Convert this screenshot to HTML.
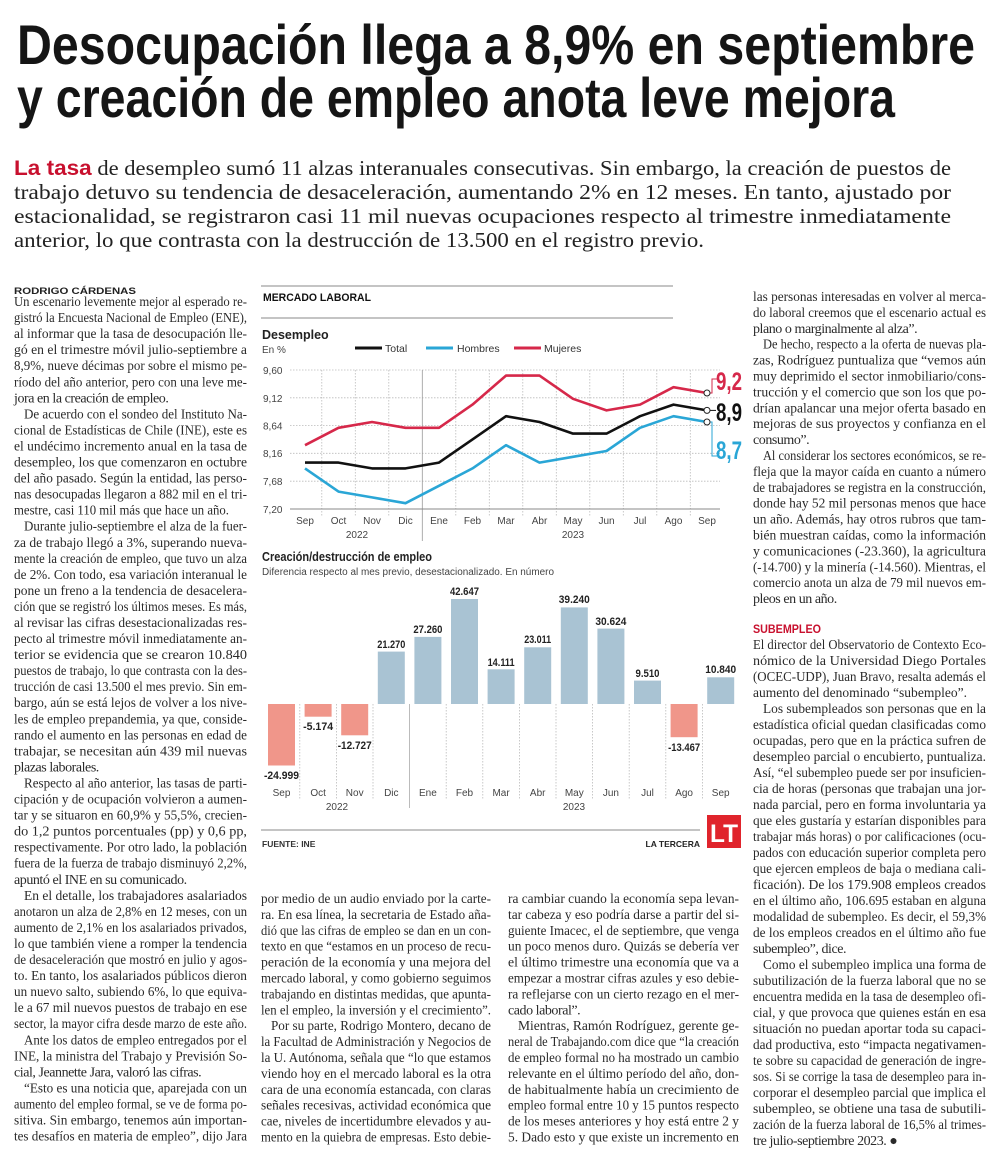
<!DOCTYPE html>
<html><head><meta charset="utf-8">
<style>
html,body{margin:0;padding:0;background:#fff;}
svg{display:block;}
.b{font-family:"Liberation Serif",serif;font-size:14px;fill:#2a2a2a;}
.s{font-family:"Liberation Sans",sans-serif;}
.e{letter-spacing:-0.45px;}
</style></head><body>
<svg width="1000" height="1169" viewBox="0 0 1000 1169" xmlns="http://www.w3.org/2000/svg">
<rect width="1000" height="1169" fill="#fff"/>
<!-- Headline -->
<text class="s" x="17" y="64" font-size="56" font-weight="bold" fill="#151515" textLength="958" lengthAdjust="spacingAndGlyphs">Desocupación llega a 8,9% en septiembre</text>
<text class="s" x="17" y="117" font-size="56" font-weight="bold" fill="#151515" textLength="878" lengthAdjust="spacingAndGlyphs">y creación de empleo anota leve mejora</text>
<!-- Lede -->
<g font-family="Liberation Serif, serif" font-size="21" fill="#222">
<text x="14" y="175" textLength="937" lengthAdjust="spacingAndGlyphs"><tspan font-family="Liberation Sans, sans-serif" font-weight="bold" fill="#c8102e">La tasa</tspan> de desempleo sumó 11 alzas interanuales consecutivas. Sin embargo, la creación de puestos de</text>
<text x="14" y="199" textLength="937" lengthAdjust="spacingAndGlyphs">trabajo detuvo su tendencia de desaceleración, aumentando 2% en 12 meses. En tanto, ajustado por</text>
<text x="14" y="223" textLength="937" lengthAdjust="spacingAndGlyphs">estacionalidad, se registraron casi 11 mil nuevas ocupaciones respecto al trimestre inmediatamente</text>
<text x="14" y="247" textLength="690" lengthAdjust="spacingAndGlyphs">anterior, lo que contrasta con la destrucción de 13.500 en el registro previo.</text>
</g>
<!-- Left column -->
<text class="s" x="14" y="294" font-size="9.5" font-weight="bold" fill="#222" textLength="122" lengthAdjust="spacingAndGlyphs">RODRIGO CÁRDENAS</text>
<text class="b">
<tspan x="14" y="306" textLength="233" lengthAdjust="spacingAndGlyphs">Un escenario levemente mejor al esperado re-</tspan>
<tspan x="14" dy="16.05" textLength="233" lengthAdjust="spacingAndGlyphs">gistró la Encuesta Nacional de Empleo (ENE),</tspan>
<tspan x="14" dy="16.05" textLength="233" lengthAdjust="spacingAndGlyphs">al informar que la tasa de desocupación lle-</tspan>
<tspan x="14" dy="16.05" textLength="233" lengthAdjust="spacingAndGlyphs">gó en el trimestre móvil julio-septiembre a</tspan>
<tspan x="14" dy="16.05" textLength="233" lengthAdjust="spacingAndGlyphs">8,9%, nueve décimas por sobre el mismo pe-</tspan>
<tspan x="14" dy="16.05" textLength="233" lengthAdjust="spacingAndGlyphs">ríodo del año anterior, pero con una leve me-</tspan>
<tspan x="14" dy="16.05" class="e">jora en la creación de empleo.</tspan>
<tspan x="24" dy="16.05" textLength="223" lengthAdjust="spacingAndGlyphs">De acuerdo con el sondeo del Instituto Na-</tspan>
<tspan x="14" dy="16.05" textLength="233" lengthAdjust="spacingAndGlyphs">cional de Estadísticas de Chile (INE), este es</tspan>
<tspan x="14" dy="16.05" textLength="233" lengthAdjust="spacingAndGlyphs">el undécimo incremento anual en la tasa de</tspan>
<tspan x="14" dy="16.05" textLength="233" lengthAdjust="spacingAndGlyphs">desempleo, los que comenzaron en octubre</tspan>
<tspan x="14" dy="16.05" textLength="233" lengthAdjust="spacingAndGlyphs">del año pasado. Según la entidad, las perso-</tspan>
<tspan x="14" dy="16.05" textLength="233" lengthAdjust="spacingAndGlyphs">nas desocupadas llegaron a 882 mil en el tri-</tspan>
<tspan x="14" dy="16.05" textLength="215" lengthAdjust="spacingAndGlyphs">mestre, casi 110 mil más que hace un año.</tspan>
<tspan x="24" dy="16.05" textLength="223" lengthAdjust="spacingAndGlyphs">Durante julio-septiembre el alza de la fuer-</tspan>
<tspan x="14" dy="16.05" textLength="233" lengthAdjust="spacingAndGlyphs">za de trabajo llegó a 3%, superando nueva-</tspan>
<tspan x="14" dy="16.05" textLength="233" lengthAdjust="spacingAndGlyphs">mente la creación de empleo, que tuvo un alza</tspan>
<tspan x="14" dy="16.05" textLength="233" lengthAdjust="spacingAndGlyphs">de 2%. Con todo, esa variación interanual le</tspan>
<tspan x="14" dy="16.05" textLength="233" lengthAdjust="spacingAndGlyphs">pone un freno a la tendencia de desacelera-</tspan>
<tspan x="14" dy="16.05" textLength="233" lengthAdjust="spacingAndGlyphs">ción que se registró los últimos meses. Es más,</tspan>
<tspan x="14" dy="16.05" textLength="233" lengthAdjust="spacingAndGlyphs">al revisar las cifras desestacionalizadas res-</tspan>
<tspan x="14" dy="16.05" textLength="233" lengthAdjust="spacingAndGlyphs">pecto al trimestre móvil inmediatamente an-</tspan>
<tspan x="14" dy="16.05" textLength="233" lengthAdjust="spacingAndGlyphs">terior se evidencia que se crearon 10.840</tspan>
<tspan x="14" dy="16.05" textLength="233" lengthAdjust="spacingAndGlyphs">puestos de trabajo, lo que contrasta con la des-</tspan>
<tspan x="14" dy="16.05" textLength="233" lengthAdjust="spacingAndGlyphs">trucción de casi 13.500 el mes previo. Sin em-</tspan>
<tspan x="14" dy="16.05" textLength="233" lengthAdjust="spacingAndGlyphs">bargo, aún se está lejos de volver a los nive-</tspan>
<tspan x="14" dy="16.05" textLength="233" lengthAdjust="spacingAndGlyphs">les de empleo prepandemia, ya que, conside-</tspan>
<tspan x="14" dy="16.05" textLength="233" lengthAdjust="spacingAndGlyphs">rando el aumento en las personas en edad de</tspan>
<tspan x="14" dy="16.05" textLength="233" lengthAdjust="spacingAndGlyphs">trabajar, se necesitan aún 439 mil nuevas</tspan>
<tspan x="14" dy="16.05" class="e">plazas laborales.</tspan>
<tspan x="24" dy="16.05" textLength="223" lengthAdjust="spacingAndGlyphs">Respecto al año anterior, las tasas de parti-</tspan>
<tspan x="14" dy="16.05" textLength="233" lengthAdjust="spacingAndGlyphs">cipación y de ocupación volvieron a aumen-</tspan>
<tspan x="14" dy="16.05" textLength="233" lengthAdjust="spacingAndGlyphs">tar y se situaron en 60,9% y 55,5%, crecien-</tspan>
<tspan x="14" dy="16.05" textLength="233" lengthAdjust="spacingAndGlyphs">do 1,2 puntos porcentuales (pp) y 0,6 pp,</tspan>
<tspan x="14" dy="16.05" textLength="233" lengthAdjust="spacingAndGlyphs">respectivamente. Por otro lado, la población</tspan>
<tspan x="14" dy="16.05" textLength="233" lengthAdjust="spacingAndGlyphs">fuera de la fuerza de trabajo disminuyó 2,2%,</tspan>
<tspan x="14" dy="16.05" class="e">apuntó el INE en su comunicado.</tspan>
<tspan x="24" dy="16.05" textLength="223" lengthAdjust="spacingAndGlyphs">En el detalle, los trabajadores asalariados</tspan>
<tspan x="14" dy="16.05" textLength="233" lengthAdjust="spacingAndGlyphs">anotaron un alza de 2,8% en 12 meses, con un</tspan>
<tspan x="14" dy="16.05" textLength="233" lengthAdjust="spacingAndGlyphs">aumento de 2,1% en los asalariados privados,</tspan>
<tspan x="14" dy="16.05" textLength="233" lengthAdjust="spacingAndGlyphs">lo que también viene a romper la tendencia</tspan>
<tspan x="14" dy="16.05" textLength="233" lengthAdjust="spacingAndGlyphs">de desaceleración que mostró en julio y agos-</tspan>
<tspan x="14" dy="16.05" textLength="233" lengthAdjust="spacingAndGlyphs">to. En tanto, los asalariados públicos dieron</tspan>
<tspan x="14" dy="16.05" textLength="233" lengthAdjust="spacingAndGlyphs">un nuevo salto, subiendo 6%, lo que equiva-</tspan>
<tspan x="14" dy="16.05" textLength="233" lengthAdjust="spacingAndGlyphs">le a 67 mil nuevos puestos de trabajo en ese</tspan>
<tspan x="14" dy="16.05" textLength="233" lengthAdjust="spacingAndGlyphs">sector, la mayor cifra desde marzo de este año.</tspan>
<tspan x="24" dy="16.05" textLength="223" lengthAdjust="spacingAndGlyphs">Ante los datos de empleo entregados por el</tspan>
<tspan x="14" dy="16.05" textLength="233" lengthAdjust="spacingAndGlyphs">INE, la ministra del Trabajo y Previsión So-</tspan>
<tspan x="14" dy="16.05" class="e">cial, Jeannette Jara, valoró las cifras.</tspan>
<tspan x="24" dy="16.05" textLength="223" lengthAdjust="spacingAndGlyphs">“Esto es una noticia que, aparejada con un</tspan>
<tspan x="14" dy="16.05" textLength="233" lengthAdjust="spacingAndGlyphs">aumento del empleo formal, se ve de forma po-</tspan>
<tspan x="14" dy="16.05" textLength="233" lengthAdjust="spacingAndGlyphs">sitiva. Sin embargo, tenemos aún importan-</tspan>
<tspan x="14" dy="16.05" textLength="233" lengthAdjust="spacingAndGlyphs">tes desafíos en materia de empleo”, dijo Jara</tspan>
</text>
<!-- Middle col 1 -->
<text class="b">
<tspan x="261" y="903" textLength="230" lengthAdjust="spacingAndGlyphs">por medio de un audio enviado por la carte-</tspan>
<tspan x="261" dy="15.9" textLength="230" lengthAdjust="spacingAndGlyphs">ra. En esa línea, la secretaria de Estado aña-</tspan>
<tspan x="261" dy="15.9" textLength="230" lengthAdjust="spacingAndGlyphs">dió que las cifras de empleo se dan en un con-</tspan>
<tspan x="261" dy="15.9" textLength="230" lengthAdjust="spacingAndGlyphs">texto en que “estamos en un proceso de recu-</tspan>
<tspan x="261" dy="15.9" textLength="230" lengthAdjust="spacingAndGlyphs">peración de la economía y una mejora del</tspan>
<tspan x="261" dy="15.9" textLength="230" lengthAdjust="spacingAndGlyphs">mercado laboral, y como gobierno seguimos</tspan>
<tspan x="261" dy="15.9" textLength="230" lengthAdjust="spacingAndGlyphs">trabajando en distintas medidas, que apunta-</tspan>
<tspan x="261" dy="15.9" textLength="230" lengthAdjust="spacingAndGlyphs">len el empleo, la inversión y el crecimiento”.</tspan>
<tspan x="271" dy="15.9" textLength="220" lengthAdjust="spacingAndGlyphs">Por su parte, Rodrigo Montero, decano de</tspan>
<tspan x="261" dy="15.9" textLength="230" lengthAdjust="spacingAndGlyphs">la Facultad de Administración y Negocios de</tspan>
<tspan x="261" dy="15.9" textLength="230" lengthAdjust="spacingAndGlyphs">la U. Autónoma, señala que “lo que estamos</tspan>
<tspan x="261" dy="15.9" textLength="230" lengthAdjust="spacingAndGlyphs">viendo hoy en el mercado laboral es la otra</tspan>
<tspan x="261" dy="15.9" textLength="230" lengthAdjust="spacingAndGlyphs">cara de una economía estancada, con claras</tspan>
<tspan x="261" dy="15.9" textLength="230" lengthAdjust="spacingAndGlyphs">señales recesivas, actividad económica que</tspan>
<tspan x="261" dy="15.9" textLength="230" lengthAdjust="spacingAndGlyphs">cae, niveles de incertidumbre elevados y au-</tspan>
<tspan x="261" dy="15.9" textLength="230" lengthAdjust="spacingAndGlyphs">mento en la quiebra de empresas. Esto debie-</tspan>
</text>
<!-- Middle col 2 -->
<text class="b">
<tspan x="508" y="903" textLength="231" lengthAdjust="spacingAndGlyphs">ra cambiar cuando la economía sepa levan-</tspan>
<tspan x="508" dy="15.9" textLength="231" lengthAdjust="spacingAndGlyphs">tar cabeza y eso podría darse a partir del si-</tspan>
<tspan x="508" dy="15.9" textLength="231" lengthAdjust="spacingAndGlyphs">guiente Imacec, el de septiembre, que venga</tspan>
<tspan x="508" dy="15.9" textLength="231" lengthAdjust="spacingAndGlyphs">un poco menos duro. Quizás se debería ver</tspan>
<tspan x="508" dy="15.9" textLength="231" lengthAdjust="spacingAndGlyphs">el último trimestre una economía que va a</tspan>
<tspan x="508" dy="15.9" textLength="231" lengthAdjust="spacingAndGlyphs">empezar a mostrar cifras azules y eso debie-</tspan>
<tspan x="508" dy="15.9" textLength="231" lengthAdjust="spacingAndGlyphs">ra reflejarse con un cierto rezago en el mer-</tspan>
<tspan x="508" dy="15.9" class="e">cado laboral”.</tspan>
<tspan x="518" dy="15.9" textLength="221" lengthAdjust="spacingAndGlyphs">Mientras, Ramón Rodríguez, gerente ge-</tspan>
<tspan x="508" dy="15.9" textLength="231" lengthAdjust="spacingAndGlyphs">neral de Trabajando.com dice que “la creación</tspan>
<tspan x="508" dy="15.9" textLength="231" lengthAdjust="spacingAndGlyphs">de empleo formal no ha mostrado un cambio</tspan>
<tspan x="508" dy="15.9" textLength="231" lengthAdjust="spacingAndGlyphs">relevante en el último período del año, don-</tspan>
<tspan x="508" dy="15.9" textLength="231" lengthAdjust="spacingAndGlyphs">de habitualmente había un crecimiento de</tspan>
<tspan x="508" dy="15.9" textLength="231" lengthAdjust="spacingAndGlyphs">empleo formal entre 10 y 15 puntos respecto</tspan>
<tspan x="508" dy="15.9" textLength="231" lengthAdjust="spacingAndGlyphs">de los meses anteriores y hoy está entre 2 y</tspan>
<tspan x="508" dy="15.9" textLength="231" lengthAdjust="spacingAndGlyphs">5. Dado esto y que existe un incremento en</tspan>
</text>
<!-- Right column -->
<text class="b">
<tspan x="753" y="301" textLength="233" lengthAdjust="spacingAndGlyphs">las personas interesadas en volver al merca-</tspan>
<tspan x="753" dy="15.9" textLength="233" lengthAdjust="spacingAndGlyphs">do laboral creemos que el escenario actual es</tspan>
<tspan x="753" dy="15.9" class="e">plano o marginalmente al alza”.</tspan>
<tspan x="763" dy="15.9" textLength="223" lengthAdjust="spacingAndGlyphs">De hecho, respecto a la oferta de nuevas pla-</tspan>
<tspan x="753" dy="15.9" textLength="233" lengthAdjust="spacingAndGlyphs">zas, Rodríguez puntualiza que “vemos aún</tspan>
<tspan x="753" dy="15.9" textLength="233" lengthAdjust="spacingAndGlyphs">muy deprimido el sector inmobiliario/cons-</tspan>
<tspan x="753" dy="15.9" textLength="233" lengthAdjust="spacingAndGlyphs">trucción y el comercio que son los que po-</tspan>
<tspan x="753" dy="15.9" textLength="233" lengthAdjust="spacingAndGlyphs">drían apalancar una mejor oferta basado en</tspan>
<tspan x="753" dy="15.9" textLength="233" lengthAdjust="spacingAndGlyphs">mejoras de sus proyectos y confianza en el</tspan>
<tspan x="753" dy="15.9" class="e">consumo”.</tspan>
<tspan x="763" dy="15.9" textLength="223" lengthAdjust="spacingAndGlyphs">Al considerar los sectores económicos, se re-</tspan>
<tspan x="753" dy="15.9" textLength="233" lengthAdjust="spacingAndGlyphs">fleja que la mayor caída en cuanto a número</tspan>
<tspan x="753" dy="15.9" textLength="233" lengthAdjust="spacingAndGlyphs">de trabajadores se registra en la construcción,</tspan>
<tspan x="753" dy="15.9" textLength="233" lengthAdjust="spacingAndGlyphs">donde hay 52 mil personas menos que hace</tspan>
<tspan x="753" dy="15.9" textLength="233" lengthAdjust="spacingAndGlyphs">un año. Además, hay otros rubros que tam-</tspan>
<tspan x="753" dy="15.9" textLength="233" lengthAdjust="spacingAndGlyphs">bién muestran caídas, como la información</tspan>
<tspan x="753" dy="15.9" textLength="233" lengthAdjust="spacingAndGlyphs">y comunicaciones (-23.360), la agricultura</tspan>
<tspan x="753" dy="15.9" textLength="233" lengthAdjust="spacingAndGlyphs">(-14.700) y la minería (-14.560). Mientras, el</tspan>
<tspan x="753" dy="15.9" textLength="233" lengthAdjust="spacingAndGlyphs">comercio anota un alza de 79 mil nuevos em-</tspan>
<tspan x="753" dy="15.9" class="e">pleos en un año.</tspan>
</text>
<text class="s" x="753" y="633" font-size="12" font-weight="bold" fill="#c8102e" textLength="68" lengthAdjust="spacingAndGlyphs">SUBEMPLEO</text>
<text class="b">
<tspan x="753" y="649" textLength="233" lengthAdjust="spacingAndGlyphs">El director del Observatorio de Contexto Eco-</tspan>
<tspan x="753" dy="16" textLength="233" lengthAdjust="spacingAndGlyphs">nómico de la Universidad Diego Portales</tspan>
<tspan x="753" dy="16" textLength="233" lengthAdjust="spacingAndGlyphs">(OCEC-UDP), Juan Bravo, resalta además el</tspan>
<tspan x="753" dy="16" textLength="214" lengthAdjust="spacingAndGlyphs">aumento del denominado “subempleo”.</tspan>
<tspan x="763" dy="16" textLength="223" lengthAdjust="spacingAndGlyphs">Los subempleados son personas que en la</tspan>
<tspan x="753" dy="16" textLength="233" lengthAdjust="spacingAndGlyphs">estadística oficial quedan clasificadas como</tspan>
<tspan x="753" dy="16" textLength="233" lengthAdjust="spacingAndGlyphs">ocupadas, pero que en la práctica sufren de</tspan>
<tspan x="753" dy="16" textLength="233" lengthAdjust="spacingAndGlyphs">desempleo parcial o encubierto, puntualiza.</tspan>
<tspan x="753" dy="16" textLength="233" lengthAdjust="spacingAndGlyphs">Así, “el subempleo puede ser por insuficien-</tspan>
<tspan x="753" dy="16" textLength="233" lengthAdjust="spacingAndGlyphs">cia de horas (personas que trabajan una jor-</tspan>
<tspan x="753" dy="16" textLength="233" lengthAdjust="spacingAndGlyphs">nada parcial, pero en forma involuntaria ya</tspan>
<tspan x="753" dy="16" textLength="233" lengthAdjust="spacingAndGlyphs">que eles gustaría y estarían disponibles para</tspan>
<tspan x="753" dy="16" textLength="233" lengthAdjust="spacingAndGlyphs">trabajar más horas) o por calificaciones (ocu-</tspan>
<tspan x="753" dy="16" textLength="233" lengthAdjust="spacingAndGlyphs">pados con educación superior completa pero</tspan>
<tspan x="753" dy="16" textLength="233" lengthAdjust="spacingAndGlyphs">que ejercen empleos de baja o mediana cali-</tspan>
<tspan x="753" dy="16" textLength="233" lengthAdjust="spacingAndGlyphs">ficación). De los 179.908 empleos creados</tspan>
<tspan x="753" dy="16" textLength="233" lengthAdjust="spacingAndGlyphs">en el último año, 106.695 estaban en alguna</tspan>
<tspan x="753" dy="16" textLength="233" lengthAdjust="spacingAndGlyphs">modalidad de subempleo. Es decir, el 59,3%</tspan>
<tspan x="753" dy="16" textLength="233" lengthAdjust="spacingAndGlyphs">de los empleos creados en el último año fue</tspan>
<tspan x="753" dy="16" class="e">subempleo”, dice.</tspan>
<tspan x="763" dy="16" textLength="223" lengthAdjust="spacingAndGlyphs">Como el subempleo implica una forma de</tspan>
<tspan x="753" dy="16" textLength="233" lengthAdjust="spacingAndGlyphs">subutilización de la fuerza laboral que no se</tspan>
<tspan x="753" dy="16" textLength="233" lengthAdjust="spacingAndGlyphs">encuentra medida en la tasa de desempleo ofi-</tspan>
<tspan x="753" dy="16" textLength="233" lengthAdjust="spacingAndGlyphs">cial, y que provoca que quienes están en esa</tspan>
<tspan x="753" dy="16" textLength="233" lengthAdjust="spacingAndGlyphs">situación no puedan aportar toda su capaci-</tspan>
<tspan x="753" dy="16" textLength="233" lengthAdjust="spacingAndGlyphs">dad productiva, esto “impacta negativamen-</tspan>
<tspan x="753" dy="16" textLength="233" lengthAdjust="spacingAndGlyphs">te sobre su capacidad de generación de ingre-</tspan>
<tspan x="753" dy="16" textLength="233" lengthAdjust="spacingAndGlyphs">sos. Si se corrige la tasa de desempleo para in-</tspan>
<tspan x="753" dy="16" textLength="233" lengthAdjust="spacingAndGlyphs">corporar el desempleo parcial que implica el</tspan>
<tspan x="753" dy="16" textLength="233" lengthAdjust="spacingAndGlyphs">subempleo, se obtiene una tasa de subutili-</tspan>
<tspan x="753" dy="16" textLength="233" lengthAdjust="spacingAndGlyphs">zación de la fuerza laboral de 16,5% al trimes-</tspan>
<tspan x="753" dy="16" class="e">tre julio-septiembre 2023. ●</tspan>
</text>

<!-- ===== Chart: Mercado laboral ===== -->
<line x1="261" y1="286" x2="673" y2="286" stroke="#888" stroke-width="1"/>
<line x1="261" y1="318" x2="673" y2="318" stroke="#888" stroke-width="1"/>
<text class="s" x="263" y="301" font-size="11" font-weight="bold" fill="#111" textLength="108" lengthAdjust="spacingAndGlyphs">MERCADO LABORAL</text>
<text class="s" x="262" y="339" font-size="12.5" font-weight="bold" fill="#222">Desempleo</text>
<text class="s" x="262" y="353" font-size="10" fill="#444">En %</text>
<g class="s" font-size="10.5" fill="#333">
<line x1="355" y1="348" x2="382" y2="348" stroke="#111" stroke-width="3"/><text x="385" y="352">Total</text>
<line x1="426" y1="348" x2="453" y2="348" stroke="#2aa6d6" stroke-width="3"/><text x="457" y="352">Hombres</text>
<line x1="514" y1="348" x2="541" y2="348" stroke="#d6284a" stroke-width="3"/><text x="544" y="352">Mujeres</text>
</g>
<g stroke="#bbb" stroke-width="0.8" stroke-dasharray="1.5,1.5">
<line x1="290" y1="370" x2="720" y2="370"/>
<line x1="290" y1="397.8" x2="720" y2="397.8"/>
<line x1="290" y1="425.5" x2="720" y2="425.5"/>
<line x1="290" y1="453.3" x2="720" y2="453.3"/>
<line x1="290" y1="481.2" x2="720" y2="481.2"/>
<line x1="321.8" y1="370" x2="321.8" y2="516"/>
<line x1="355.3" y1="370" x2="355.3" y2="516"/>
<line x1="388.8" y1="370" x2="388.8" y2="516"/>
<line x1="455.8" y1="370" x2="455.8" y2="516"/>
<line x1="489.3" y1="370" x2="489.3" y2="516"/>
<line x1="522.8" y1="370" x2="522.8" y2="516"/>
<line x1="556.3" y1="370" x2="556.3" y2="516"/>
<line x1="589.8" y1="370" x2="589.8" y2="516"/>
<line x1="623.3" y1="370" x2="623.3" y2="516"/>
<line x1="656.8" y1="370" x2="656.8" y2="516"/>
<line x1="690.3" y1="370" x2="690.3" y2="516"/>
</g>
<line x1="422.3" y1="370" x2="422.3" y2="541" stroke="#999" stroke-width="0.8"/>
<line x1="290" y1="509" x2="720" y2="509" stroke="#888" stroke-width="1"/>
<g class="s" font-size="10" fill="#444">
<text x="263" y="374">9,60</text><text x="263" y="402">9,12</text><text x="263" y="429.5">8,64</text>
<text x="263" y="457">8,16</text><text x="263" y="485">7,68</text><text x="263" y="513">7,20</text>
</g>
<g class="s" font-size="10" fill="#444" text-anchor="middle">
<text x="305" y="524">Sep</text><text x="338.5" y="524">Oct</text><text x="372" y="524">Nov</text><text x="405.5" y="524">Dic</text>
<text x="439" y="524">Ene</text><text x="472.5" y="524">Feb</text><text x="506" y="524">Mar</text><text x="539.5" y="524">Abr</text>
<text x="573" y="524">May</text><text x="606.5" y="524">Jun</text><text x="640" y="524">Jul</text><text x="673.5" y="524">Ago</text><text x="707" y="524">Sep</text>
<text x="357" y="538">2022</text><text x="573" y="538">2023</text>
</g>
<g fill="none" stroke-width="2.6" stroke-linejoin="round">
<polyline stroke="#d6284a" points="305,445.2 338.5,427.8 372,422 405.5,427.8 439,427.8 472.5,404.6 506,375.6 539.5,375.6 573,398.8 606.5,410.4 640,404.6 673.5,387.2 707,393"/>
<polyline stroke="#2aa6d6" points="305,468.4 338.5,491.6 372,497.4 405.5,503.2 439,485.8 472.5,468.4 506,445.2 539.5,462.6 573,456.8 606.5,451 640,427.8 673.5,416.2 707,422"/>
<polyline stroke="#111" points="305,462.6 338.5,462.6 372,468.4 405.5,468.4 439,462.6 472.5,439.4 506,416.2 539.5,422 573,433.6 606.5,433.6 640,416.2 673.5,404.6 707,410.4"/>
</g>
<g stroke-width="1">
<polyline fill="none" stroke="#d6284a" points="710,393 712,393 712,379 717,379"/>
<polyline fill="none" stroke="#111" points="710,410.4 716,410.4"/>
<polyline fill="none" stroke="#2aa6d6" points="710,422 712,422 712,456 717,456"/>
<circle cx="707" cy="393" r="3" fill="#fff" stroke="#222"/>
<circle cx="707" cy="410.4" r="3" fill="#fff" stroke="#222"/>
<circle cx="707" cy="422" r="3" fill="#fff" stroke="#222"/>
</g>
<g class="s" font-size="25" font-weight="bold">
<text x="716" y="390" fill="#d6284a" textLength="26" lengthAdjust="spacingAndGlyphs">9,2</text>
<text x="716" y="421" fill="#111" textLength="26" lengthAdjust="spacingAndGlyphs">8,9</text>
<text x="716" y="459" fill="#2aa6d6" textLength="26" lengthAdjust="spacingAndGlyphs">8,7</text>
</g>

<!-- ===== Bar chart ===== -->
<text class="s" x="262" y="561" font-size="12.5" font-weight="bold" fill="#222" textLength="170" lengthAdjust="spacingAndGlyphs">Creación/destrucción de empleo</text>
<text class="s" x="262" y="575" font-size="10" fill="#444" textLength="292" lengthAdjust="spacingAndGlyphs">Diferencia respecto al mes previo, desestacionalizado. En número</text>
<g stroke="#bbb" stroke-width="0.8" stroke-dasharray="1.5,1.5">
<line x1="299.8" y1="704" x2="299.8" y2="800"/><line x1="336.4" y1="704" x2="336.4" y2="800"/>
<line x1="373" y1="704" x2="373" y2="800"/><line x1="446.2" y1="704" x2="446.2" y2="800"/>
<line x1="482.8" y1="704" x2="482.8" y2="800"/><line x1="519.4" y1="704" x2="519.4" y2="800"/>
<line x1="556" y1="704" x2="556" y2="800"/><line x1="592.6" y1="704" x2="592.6" y2="800"/>
<line x1="629.2" y1="704" x2="629.2" y2="800"/><line x1="665.8" y1="704" x2="665.8" y2="800"/>
<line x1="702.4" y1="704" x2="702.4" y2="800"/>
</g>
<line x1="409.6" y1="704" x2="409.6" y2="808" stroke="#aaa" stroke-width="0.8"/>
<g fill="#f0968a">
<rect x="268" y="704" width="27" height="61.5"/>
<rect x="304.6" y="704" width="27" height="12.7"/>
<rect x="341.2" y="704" width="27" height="31.3"/>
<rect x="670.6" y="704" width="27" height="33.2"/>
</g>
<g fill="#a9c3d3">
<rect x="377.8" y="651.6" width="27" height="52.4"/>
<rect x="414.4" y="636.9" width="27" height="67.1"/>
<rect x="451" y="599" width="27" height="105"/>
<rect x="487.6" y="669.3" width="27" height="34.7"/>
<rect x="524.2" y="647.3" width="27" height="56.7"/>
<rect x="560.8" y="607.4" width="27" height="96.6"/>
<rect x="597.4" y="628.6" width="27" height="75.4"/>
<rect x="634" y="680.6" width="27" height="23.4"/>
<rect x="707.2" y="677.3" width="27" height="26.7"/>
</g>
<g class="s" font-size="11" font-weight="bold" fill="#222" text-anchor="middle">
<text x="281.5" y="779" textLength="35" lengthAdjust="spacingAndGlyphs">-24.999</text>
<text x="318.1" y="730" textLength="30" lengthAdjust="spacingAndGlyphs">-5.174</text>
<text x="354.7" y="749" textLength="34" lengthAdjust="spacingAndGlyphs">-12.727</text>
<text x="391.3" y="648" textLength="28" lengthAdjust="spacingAndGlyphs">21.270</text>
<text x="427.9" y="633" textLength="29" lengthAdjust="spacingAndGlyphs">27.260</text>
<text x="464.5" y="595" textLength="29" lengthAdjust="spacingAndGlyphs">42.647</text>
<text x="501.1" y="666" textLength="27" lengthAdjust="spacingAndGlyphs">14.111</text>
<text x="537.7" y="643" textLength="27" lengthAdjust="spacingAndGlyphs">23.011</text>
<text x="574.3" y="603" textLength="31" lengthAdjust="spacingAndGlyphs">39.240</text>
<text x="610.9" y="625" textLength="31" lengthAdjust="spacingAndGlyphs">30.624</text>
<text x="647.5" y="677" textLength="24" lengthAdjust="spacingAndGlyphs">9.510</text>
<text x="684.1" y="751" textLength="32" lengthAdjust="spacingAndGlyphs">-13.467</text>
<text x="720.7" y="673" textLength="31" lengthAdjust="spacingAndGlyphs">10.840</text>
</g>
<g class="s" font-size="10" fill="#444" text-anchor="middle">
<text x="281.5" y="796">Sep</text><text x="318.1" y="796">Oct</text><text x="354.7" y="796">Nov</text><text x="391.3" y="796">Dic</text>
<text x="427.9" y="796">Ene</text><text x="464.5" y="796">Feb</text><text x="501.1" y="796">Mar</text><text x="537.7" y="796">Abr</text>
<text x="574.3" y="796">May</text><text x="610.9" y="796">Jun</text><text x="647.5" y="796">Jul</text><text x="684.1" y="796">Ago</text><text x="720.7" y="796">Sep</text>
<text x="337" y="810">2022</text><text x="574" y="810">2023</text>
</g>
<line x1="261" y1="830" x2="700" y2="830" stroke="#888" stroke-width="1"/>
<text class="s" x="262" y="847" font-size="8.5" font-weight="bold" fill="#333">FUENTE: INE</text>
<text class="s" x="700" y="847" font-size="8.5" font-weight="bold" fill="#222" text-anchor="end">LA TERCERA</text>
<rect x="707" y="815" width="34" height="33" fill="#e0242c"/>
<text class="s" x="724" y="842" font-size="25" font-weight="bold" fill="#fff" text-anchor="middle" textLength="28" lengthAdjust="spacingAndGlyphs">LT</text>
</svg>
</body></html>
